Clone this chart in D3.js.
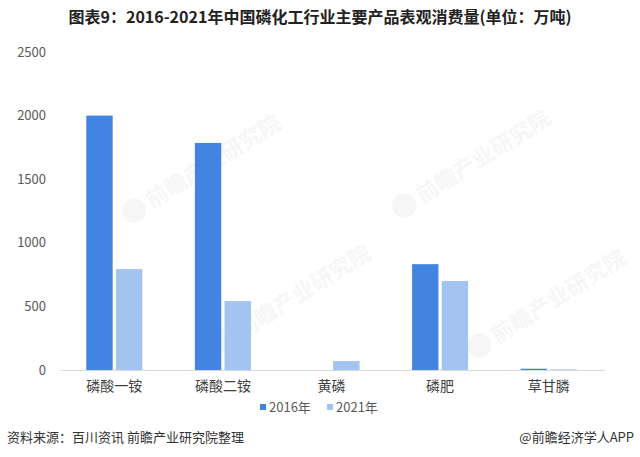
<!DOCTYPE html>
<html><head><meta charset="utf-8">
<script src="https://cdn.jsdelivr.net/npm/d3@7"></script>
<style>body{margin:0;background:#fff;}svg{display:block;}text{font-family:"Noto Sans CJK SC","Microsoft YaHei",sans-serif;}</style>
</head><body>
<svg id="c" width="640" height="457"></svg>
<script>
const categories = ["磷酸一铵","磷酸二铵","黄磷","磷肥","草甘膦"];
const seriesNames = ["2016年","2021年"];
const values2016 = [2000, 1785, 0, 832, 10];
const values2021 = [793, 542, 70, 700, 5];
const yTicks = [0, 500, 1000, 1500, 2000, 2500];
const colors = ["#4285e0", "#a3c3f0"];
const title = "图表9：2016-2021年中国磷化工行业主要产品表观消费量(单位：万吨)";
const source = "资料来源：百川资讯 前瞻产业研究院整理";
const brand = "@前瞻经济学人APP";

const svg = d3.select("#c");
const W = 640, H = 457;
const m = {left: 60, right: 37, top: 52, bottom: 87};
const innerBottom = 370;

// faint watermarks
const wm = [[175,185],[445,180],[265,315],[520,320]];
wm.forEach(([x,y]) => {
  const g = svg.append("g").attr("transform", `translate(${x},${y}) rotate(-32)`).attr("opacity", 0.045);
  g.append("circle").attr("cx", -48).attr("cy", 0).attr("r", 12).attr("fill", "#444");
  g.append("text").attr("x", -32).attr("y", 8).attr("font-size", 22).attr("font-weight", "bold").attr("fill", "#444").text("前瞻产业研究院");
});

const x0 = d3.scaleBand().domain(categories).range([m.left, W - m.right]).paddingInner(0.484).paddingOuter(0.242);
const x1 = d3.scaleBand().domain(seriesNames).range([0, x0.bandwidth()]).paddingInner(0.11);
const y = d3.scaleLinear().domain([0, 2500]).range([innerBottom, m.top]);

// title
svg.append("text").attr("x", W/2).attr("y", 23).attr("text-anchor", "middle")
  .attr("font-size", 16).attr("font-weight", "bold").attr("fill", "#222").text(title);

// y axis labels
const yAxis = d3.axisLeft(y).tickValues(yTicks).tickFormat(d3.format("d")).tickSize(0).tickPadding(0);
const ya = svg.append("g").attr("transform", `translate(46,0)`).call(yAxis);
ya.select(".domain").remove();
ya.selectAll("text").attr("font-size", 13).attr("fill", "#595959").style("font-family", '"Noto Sans CJK SC",sans-serif');

// bars
const data = categories.map((c, i) => ({c, v: [values2016[i], values2021[i]]}));
const g = svg.append("g");
data.forEach(d => {
  seriesNames.forEach((s, j) => {
    const v = d.v[j];
    g.append("rect")
      .attr("x", x0(d.c) + x1(s))
      .attr("y", y(v))
      .attr("width", x1.bandwidth())
      .attr("height", innerBottom - y(v))
      .attr("fill", colors[j]);
  });
});

// x axis
const xAxis = d3.axisBottom(x0).tickSize(0).tickPadding(11);
const xa = svg.append("g").attr("transform", `translate(0,${innerBottom})`).call(xAxis);
xa.select(".domain").attr("stroke", "#d9d9d9").attr("d", `M${m.left},0.5H${W - m.right + 2}`);
xa.selectAll("text").attr("font-size", 14).attr("fill", "#404040").style("font-family", '"Noto Sans CJK SC",sans-serif');

// legend
const legendX = [260, 327];
seriesNames.forEach((s, j) => {
  svg.append("rect").attr("x", legendX[j]).attr("y", 404).attr("width", 6).attr("height", 6).attr("fill", colors[j]);
  svg.append("text").attr("x", legendX[j] + 9).attr("y", 412).attr("font-size", 13).attr("fill", "#595959").text(s);
});

// footer
svg.append("text").attr("x", 7).attr("y", 442).attr("font-size", 13).attr("fill", "#333").text(source);
svg.append("text").attr("x", 634).attr("y", 442).attr("text-anchor", "end").attr("font-size", 13).attr("fill", "#333").text(brand);
</script>
</body></html>
